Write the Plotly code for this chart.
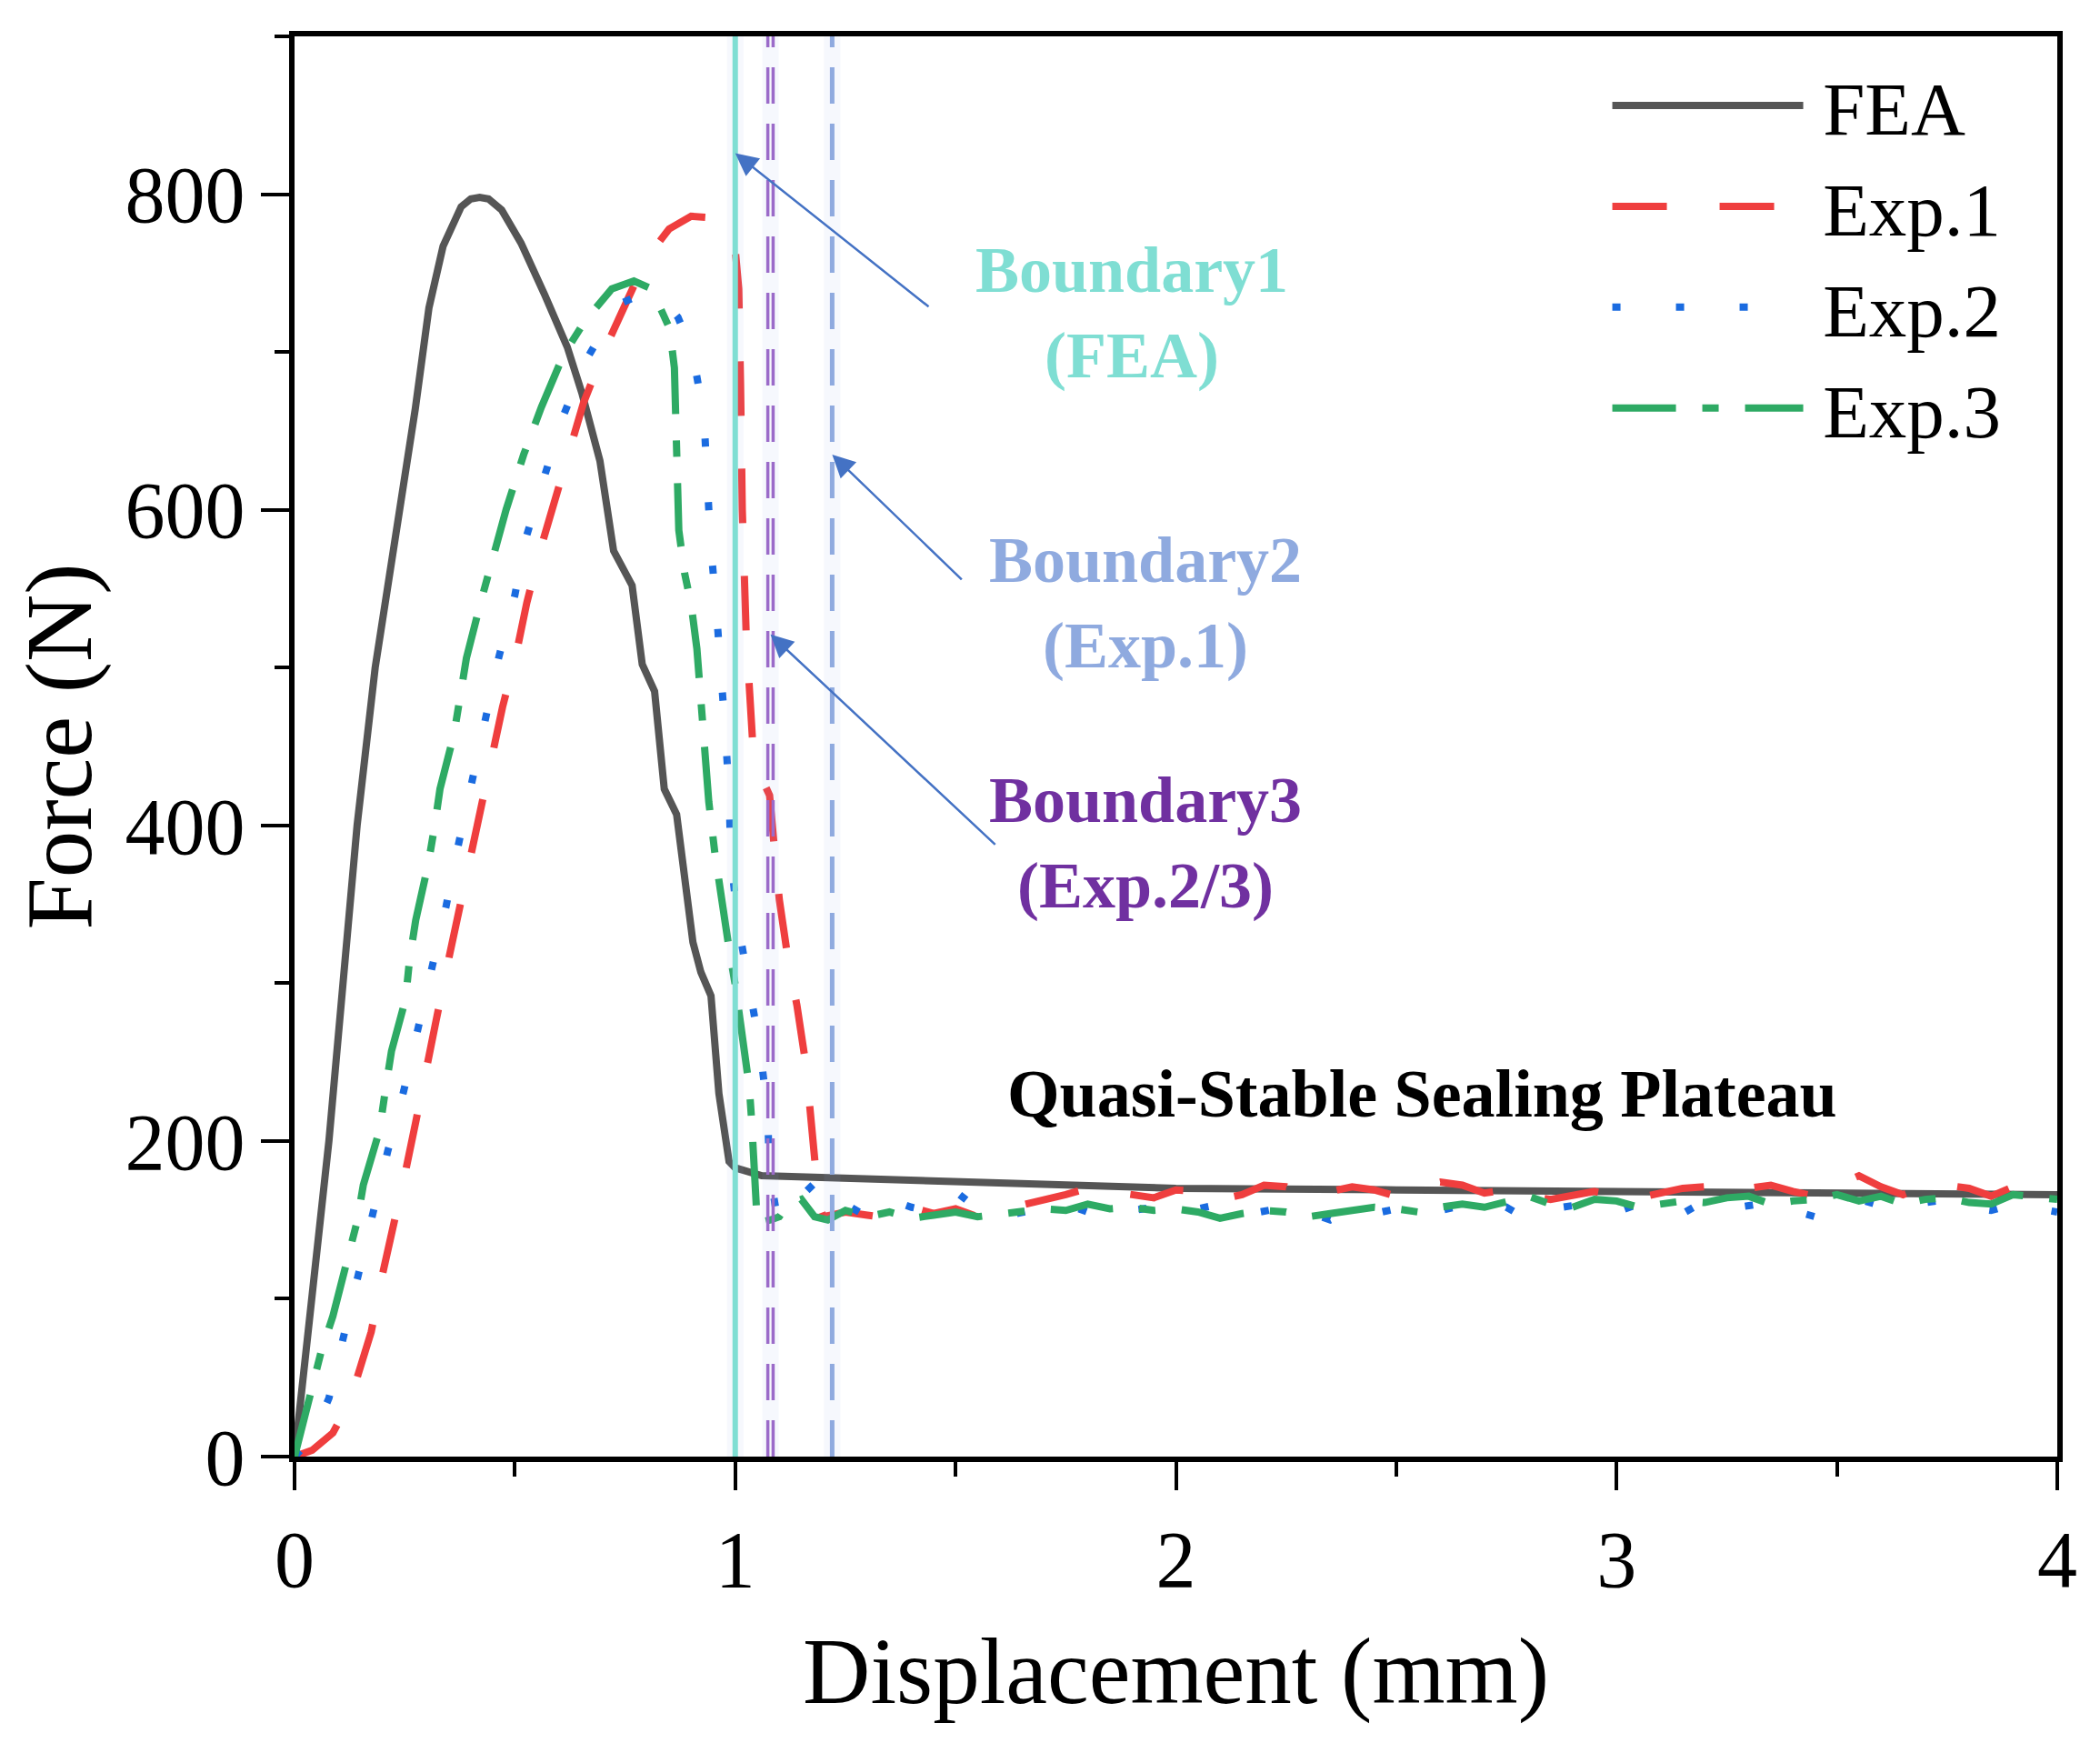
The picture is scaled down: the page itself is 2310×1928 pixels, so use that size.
import plotly.graph_objects as go

# ── Data ──────────────────────────────────────────────────────────────────────
fea_x = [0, 0.04, 0.078, 0.11, 0.142, 0.183, 0.21, 0.243, 0.274, 0.305, 0.337,
         0.378, 0.40, 0.42, 0.44, 0.47, 0.514, 0.568, 0.619, 0.652, 0.693,
         0.724, 0.766, 0.789, 0.817, 0.839, 0.867, 0.904, 0.922, 0.945, 0.963,
         0.986, 1.0, 1.06, 1.5, 2.0, 2.5, 3.0, 3.5, 4.0]
fea_y = [0, 105, 200, 300, 400, 500, 549, 613, 664, 728, 767,
         792, 797, 798, 797, 790, 769, 736, 703, 674, 631,
         574, 552, 502, 485, 423, 407, 326, 307, 292, 230,
         187, 183, 178, 174, 170, 169, 168, 167, 166]

# loading / unloading part of each experiment
exp1_x = [0, 0.04, 0.087, 0.12, 0.142, 0.174, 0.2, 0.225, 0.252, 0.275, 0.298,
          0.321, 0.348, 0.371, 0.399, 0.422, 0.45, 0.472, 0.504, 0.527, 0.557,
          0.588, 0.625, 0.656, 0.703, 0.747, 0.798, 0.85, 0.9, 0.95, 0.977,
          1.0, 1.008, 1.012, 1.016, 1.025, 1.041, 1.06, 1.078, 1.09, 1.1,
          1.12, 1.14, 1.16, 1.17, 1.18, 1.19, 1.2]
exp1_y = [0, 4, 15, 32, 50, 79, 116, 145, 181, 212, 247,
          276, 313, 344, 380, 409, 446, 475, 510, 541, 574,
          604, 638, 668, 701, 728, 759, 778, 786, 785, 780,
          765, 740, 680, 600, 520, 446, 430, 419, 382, 353,
          315, 286, 249, 218, 180, 160, 152]

exp2_x = [0, 0.04, 0.078, 0.11, 0.147, 0.179, 0.211, 0.248, 0.28, 0.312, 0.344,
          0.372, 0.404, 0.436, 0.463, 0.5, 0.525, 0.568, 0.609, 0.662, 0.735,
          0.79, 0.835, 0.87, 0.903, 0.929, 0.935, 0.944, 0.956, 0.968, 0.977,
          0.986, 0.99, 1.005, 1.028, 1.055, 1.073, 1.078, 1.096, 1.12, 1.15,
          1.19, 1.22]
exp2_y = [0, 12, 37, 75, 116, 152, 193, 232, 270, 311, 349,
          388, 428, 467, 506, 546, 582, 622, 659, 695, 730,
          737, 734, 722, 700, 659, 620, 579, 541, 500, 461,
          421, 380, 340, 301, 261, 220, 181, 150, 158, 165,
          176, 162]

exp3_x = [0, 0.02, 0.04, 0.06, 0.087, 0.119, 0.142, 0.156, 0.193, 0.206, 0.22,
          0.252, 0.261, 0.275, 0.303, 0.317, 0.33, 0.362, 0.376, 0.39, 0.422,
          0.44, 0.48, 0.52, 0.56, 0.61, 0.66, 0.72, 0.77, 0.81, 0.851,
          0.862, 0.866, 0.872, 0.885, 0.9, 0.913, 0.931, 0.94, 0.954, 0.968,
          0.986, 1.0, 1.018, 1.032, 1.037, 1.042, 1.046, 1.05, 1.08, 1.1,
          1.12, 1.15, 1.18, 1.21]
exp3_y = [0, 22, 42, 66, 89, 124, 149, 172, 207, 232, 257,
          290, 315, 340, 375, 398, 423, 458, 483, 506, 541,
          560, 600, 635, 665, 698, 720, 740, 745, 740, 715,
          690, 640, 587, 560, 540, 512, 450, 415, 382, 353,
          322, 299, 261, 234, 214, 187, 160, 148, 150, 152,
          160, 163, 152, 150]

# sealing plateau (shared displacement grid)
plateau_x = [1.25, 1.30, 1.35, 1.40, 1.45, 1.50, 1.55, 1.60, 1.65, 1.70,
             1.75, 1.80, 1.85, 1.90, 1.95, 2.00, 2.05, 2.10, 2.15, 2.20,
             2.25, 2.30, 2.35, 2.40, 2.45, 2.50, 2.55, 2.60, 2.65, 2.70,
             2.75, 2.80, 2.85, 2.90, 2.95, 3.00, 3.05, 3.10, 3.15, 3.20,
             3.25, 3.30, 3.35, 3.40, 3.45, 3.50, 3.55, 3.60, 3.65, 3.70,
             3.75, 3.80, 3.85, 3.90, 3.95, 4.00]
plateau_exp1 = [155, 153, 151, 158, 154, 157, 152, 156, 159, 162,
                166, 170, 168, 165, 164, 169, 168, 163, 166, 172,
                171, 165, 168, 171, 169, 165, 171, 174, 172, 167,
                169, 165, 163, 166, 168, 165, 164, 167, 170, 171,
                166, 170, 172, 168, 165, 172, 178, 171, 166, 171,
                172, 170, 165, 171, 172, 170]
plateau_exp2 = [160, 152, 163, 158, 155, 168, 157, 152, 155, 158,
                160, 155, 150, 156, 158, 154, 157, 160, 153, 156,
                158, 155, 150, 157, 154, 157, 160, 156, 159, 155,
                158, 150, 157, 159, 153, 155, 160, 158, 154, 162,
                157, 159, 161, 156, 152, 160, 163, 159, 157, 161,
                163, 158, 156, 160, 158, 155]
plateau_exp3 = [156, 152, 155, 151, 153, 155, 152, 154, 156, 157,
                156, 160, 157, 158, 156, 157, 155, 151, 154, 156,
                155, 152, 154, 156, 158, 157, 155, 158, 160, 158,
                162, 165, 160, 158, 163, 162, 158, 160, 162, 161,
                164, 165, 160, 162, 163, 166, 162, 165, 160, 163,
                164, 161, 160, 166, 164, 163]

# boundary positions (mm)
boundary_fea = 1.0
boundary_exp1 = 1.22
boundary_exp23 = 1.08

# ── Styles ────────────────────────────────────────────────────────────────────
FONT = "Liberation Serif, Times New Roman, serif"
C_FEA, C_E1, C_E2, C_E3 = "#555555", "#ef3e3e", "#1a6be0", "#2eaa64"
C_B1, C_B2, C_B3 = "#7fded3", "#8faadf", "#9b6bc9"
C_B3_TEXT = "#7030a0"
C_ARROW = "#4472c4"
LW = 8
GAP = "\u2009"   # small gap between legend sample and label

fig = go.Figure()

series = [
    ("FEA", fea_x, fea_y, C_FEA, "solid"),
    ("Exp.1", exp1_x + plateau_x, exp1_y + plateau_exp1, C_E1, "60px,58px"),
    ("Exp.2", exp2_x + plateau_x, exp2_y + plateau_exp2, C_E2, "9px,61px"),
    ("Exp.3", exp3_x + plateau_x, exp3_y + plateau_exp3, C_E3,
     "70px,29px,18px,29px"),
]
for name, xs, ys, col, dash in series:
    fig.add_trace(go.Scatter(
        x=xs, y=ys, name=GAP + name, mode="lines",
        line=dict(color=col, width=LW, dash=dash),
    ))

# ── Boundary lines (with a soft glow) ─────────────────────────────────────────
def vline(xv, color, width, dash="solid"):
    fig.add_shape(type="line", x0=xv, x1=xv, y0=0, y1=1,
                  xref="x", yref="paper",
                  line=dict(color=color, width=width, dash=dash))

for xv in (boundary_fea, boundary_exp23, boundary_exp1):
    vline(xv, "rgba(140,160,230,0.08)", 18)
vline(boundary_fea, C_B1, 6)
vline(boundary_exp23 - 0.006, C_B3, 3.5, "40px,22px")
vline(boundary_exp23 + 0.006, C_B3, 3.5, "40px,22px")
vline(boundary_exp1, C_B2, 5, "40px,22px")

# ── Arrows + labels ───────────────────────────────────────────────────────────
arrows = [
    (boundary_fea, 826, 1.442, 728),
    (boundary_exp1, 635, 1.517, 555),
    (boundary_exp23, 521, 1.593, 387),
]
for hx, hy, tx, ty in arrows:
    fig.add_annotation(x=hx, y=hy, ax=tx, ay=ty, xref="x", yref="y",
                       axref="x", ayref="y", text="", showarrow=True,
                       arrowhead=2, arrowsize=2, arrowwidth=2.5,
                       arrowcolor=C_ARROW)

labels = [
    ("Boundary1<br>(FEA)", 1.90, 725, C_B1),
    ("Boundary2<br>(Exp.1)", 1.93, 541, C_B2),
    ("Boundary3<br>(Exp.2/3)", 1.93, 389, C_B3_TEXT),
]
for txt, lx, ly, col in labels:
    fig.add_annotation(x=lx, y=ly, xref="x", yref="y", showarrow=False,
                       text="<b>" + txt.replace("<br>", "</b><br><b>") + "</b>",
                       font=dict(family=FONT, size=72, color=col),
                       align="center")

fig.add_annotation(x=2.56, y=230, xref="x", yref="y", showarrow=False,
                   text="<b>Quasi-Stable Sealing Plateau</b>",
                   font=dict(family=FONT, size=74, color="black"))

# ── Layout (margins allow for the 8px page body offset) ───────────────────────
fig.update_layout(
    width=2310, height=1928,
    margin=dict(l=316, r=55, t=32, b=334),
    plot_bgcolor="white", paper_bgcolor="white",
    font=dict(family=FONT, size=88, color="black"),
    legend=dict(x=0.745, y=0.99, xanchor="left", yanchor="top",
                bgcolor="rgba(0,0,0,0)", font=dict(size=83),
                itemwidth=210, tracegroupgap=0),
)

axis_common = dict(
    ticks="outside", ticklen=31, tickwidth=4, tickcolor="black",
    showline=True, linewidth=6, linecolor="black", mirror=True,
    showgrid=False, zeroline=False,
)
fig.update_xaxes(
    range=[0, 4], tickvals=[0, 1, 2, 3, 4],
    minor=dict(dtick=0.5, ticks="outside", ticklen=16, tickwidth=4,
               tickcolor="black"),
    title=dict(text="Displacement (mm)", font=dict(size=103), standoff=40),
    **axis_common,
)
fig.update_yaxes(
    range=[0, 900], tickvals=[0, 200, 400, 600, 800],
    minor=dict(dtick=100, ticks="outside", ticklen=16, tickwidth=4,
               tickcolor="black"),
    title=dict(text="Force (N)", font=dict(size=103), standoff=20),
    **axis_common,
)

fig.write_html("out.html")
